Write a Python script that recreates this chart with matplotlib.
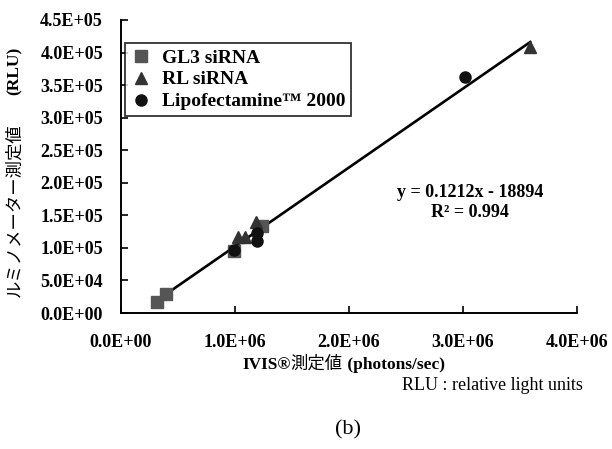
import matplotlib
matplotlib.use("Agg")
import matplotlib.pyplot as plt
import numpy as np
from matplotlib.ticker import FuncFormatter, MultipleLocator
from matplotlib.offsetbox import TextArea, HPacker, AnchoredOffsetbox

# ---- data ----
gl3_x = [0.316e6, 0.395e6, 0.99e6, 1.24e6]
gl3_y = [17000, 29300, 95000, 134000]
rl_x = [1.03e6, 1.09e6, 1.18e6, 3.59e6]
rl_y = [116000, 116000, 139000, 409000]
lipo_x = [0.99e6, 1.19e6, 1.19e6, 3.02e6]
lipo_y = [96000, 111000, 123000, 363000]
slope = 0.1212
intercept = -18894
r2 = 0.994
labels = ["GL3 siRNA", "RL siRNA", "Lipofectamine\u2122 2000"]

serif = ["Liberation Serif", "Noto Sans CJK JP"]
cjk = ["Noto Sans CJK JP", "Liberation Serif"]
plt.rcParams["font.family"] = serif

fig = plt.figure(figsize=(6.12, 4.49), dpi=100)
ax = fig.add_axes([121/612, 1-313/449, (577-121)/612, (313-20)/449])

all_x = np.array(gl3_x + rl_x + lipo_x)
lx = np.array([all_x.min(), all_x.max()])
ax.plot(lx, slope*lx + intercept, color="black", lw=1.9, zorder=2)

ax.plot(gl3_x, gl3_y, ls="none", marker="s", ms=8, color="#555555", label=labels[0], zorder=3)
ax.plot(rl_x, rl_y, ls="none", marker="^", ms=9, color="#333333", label=labels[1], zorder=3)
ax.plot(lipo_x, lipo_y, ls="none", marker="o", ms=8, color="#111111", label=labels[2], zorder=3)

ax.set_xlim(0, 4e6)
ax.set_ylim(0, 4.5e5)
ax.xaxis.set_major_locator(MultipleLocator(1e6))
ax.yaxis.set_major_locator(MultipleLocator(5e4))
fmt = FuncFormatter(lambda v, p: "%.1E" % v)
ax.xaxis.set_major_formatter(fmt)
ax.yaxis.set_major_formatter(fmt)
for s in ["top", "right"]:
    ax.spines[s].set_visible(False)
for s in ["left", "bottom"]:
    ax.spines[s].set_linewidth(1.4)
ax.tick_params(direction="in", length=5, width=1.2)
ax.tick_params(axis="y", pad=13)
ax.tick_params(axis="x", pad=15)
for lab in ax.get_xticklabels() + ax.get_yticklabels():
    lab.set_fontweight("bold")
    lab.set_fontsize(13)

leg = ax.legend(loc="upper left", bbox_to_anchor=(0.009, 0.921), frameon=True,
                fancybox=False, edgecolor="black", prop={"weight": "bold", "size": 14},
                handletextpad=0.6, labelspacing=0.22, borderpad=0.3, handlelength=1.0,
                borderaxespad=0)
leg.get_frame().set_linewidth(1.3)

ax.text(3.06e6, 185000, "y = 0.1212x - 18894", ha="center", va="center",
        fontsize=13, fontweight="bold")
ax.text(3.06e6, 154000, "R\u00b2 = 0.994", ha="center", va="center",
        fontsize=13, fontweight="bold")

# y label in two parts
fig.text(15/612, 1-297/449, "ルミノメーター測定値", rotation=90, ha="center", va="bottom",
         fontsize=12.5, family=cjk)
fig.text(15/612, 1-47/449, "(RLU)", rotation=90, ha="center", va="top",
         fontsize=12.5, fontweight="bold", family=serif)

# x label with mixed weights
parts = [
    TextArea("IVIS\u00ae", textprops=dict(fontsize=12.5, fontweight="bold", family=serif)),
    TextArea("測定値", textprops=dict(fontsize=12.5, family=cjk)),
    TextArea(" (photons/sec)", textprops=dict(fontsize=12.5, fontweight="bold", family=serif)),
]
box = HPacker(children=parts, sep=0, align="baseline", pad=0)
anch = AnchoredOffsetbox(loc="center", child=box, bbox_to_anchor=(343.5/612, 1-364/449),
                         bbox_transform=fig.transFigure, frameon=False, pad=0, borderpad=0)
fig.add_artist(anch)

fig.text(583/612, 1-385/449, "RLU : relative light units", ha="right", va="center",
         fontsize=13, family=serif)
fig.text(348/612, 1-430/449, "(b)", ha="center", va="center", fontsize=16, family=serif)

fig.savefig("out.png", dpi=100)
